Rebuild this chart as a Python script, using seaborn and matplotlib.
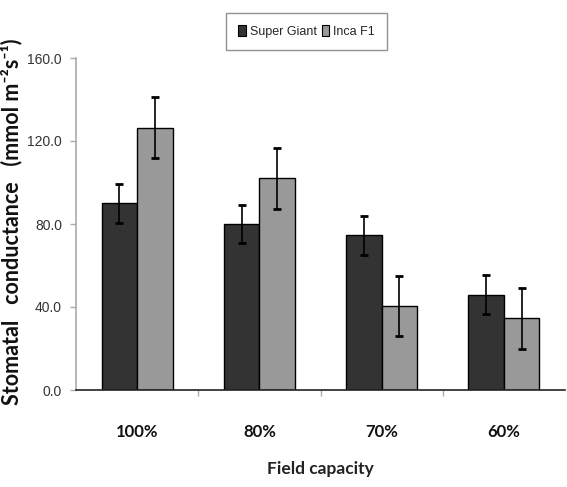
import matplotlib
matplotlib.use("Agg")
import matplotlib.pyplot as plt
from matplotlib import font_manager
from matplotlib.patches import Patch
import numpy as np
import pandas as pd
import seaborn as sns

# Stomatal conductance by field capacity for two cultivars
capacities = ["100%", "80%", "70%", "60%"]
cultivars = ["Super Giant", "Inca F1"]
super_giant = [90.0, 80.0, 74.5, 46.0]
inca_f1 = [126.5, 102.0, 40.5, 34.5]
super_giant_err = [9.5, 9.0, 9.4, 9.4]
inca_f1_err = [14.5, 14.7, 14.5, 14.6]
y_ticks = [0, 40, 80, 120, 160]

colors = {"Super Giant": "#333333", "Inca F1": "#999999"}

names = {f.name for f in font_manager.fontManager.ttflist}
narrow = "Liberation Sans Narrow" if "Liberation Sans Narrow" in names else "Liberation Sans"

df = pd.DataFrame({
    "capacity": capacities * 2,
    "cultivar": [cultivars[0]] * 4 + [cultivars[1]] * 4,
    "value": super_giant + inca_f1,
    "err": super_giant_err + inca_f1_err,
})

sns.set_style("white")
fig = plt.figure(figsize=(5.67, 4.87), dpi=100)
ax = fig.add_axes([76 / 567, 1 - 390 / 487, 489 / 567, 332 / 487])

sns.barplot(data=df, x="capacity", y="value", hue="cultivar", order=capacities,
            hue_order=cultivars, palette=colors, width=0.58, gap=0,
            edgecolor="black", linewidth=1.0, errorbar=None, legend=False, ax=ax)

# error bars centred on each drawn bar
bars = [p for p in ax.patches]
for i, cv in enumerate(cultivars):
    sub = df[df.cultivar == cv].set_index("capacity").loc[capacities]
    group = bars[i * 4:(i + 1) * 4]
    xs = [b.get_x() + b.get_width() / 2 for b in group]
    ax.errorbar(xs, sub["value"], yerr=sub["err"], fmt="none", ecolor="black",
                elinewidth=1.2, capsize=3, capthick=2)

ax.set_xlim(-0.5, 3.5)
ax.set_ylim(0, 160)
ax.set_yticks(y_ticks)
ax.set_yticklabels([f"{t:.1f}" for t in y_ticks], fontfamily=narrow, fontsize=10, color="#333333")
ax.tick_params(axis="y", which="major", left=True, length=4, width=1, color="#aaaaaa", pad=6)

ax.set_xticks(range(4))
ax.set_xticklabels(capacities, fontfamily="Lato", fontweight="bold", fontsize=12, color="#111111")
ax.tick_params(axis="x", which="major", bottom=False, pad=21)
ax.set_xticks([0.5, 1.5, 2.5], minor=True)
ax.tick_params(axis="x", which="minor", bottom=True, length=4, width=1, color="#aaaaaa")

for s in ["top", "right"]:
    ax.spines[s].set_visible(False)
ax.spines["left"].set_color("#aaaaaa")
ax.spines["left"].set_linewidth(1.2)
ax.spines["bottom"].set_color("#222222")
ax.spines["bottom"].set_linewidth(1.2)

ax.set_xlabel("Field capacity", fontfamily="Lato", fontweight="bold", fontsize=12.5,
              color="#222222", labelpad=15)
ax.set_ylabel("Stomatal   conductance   (mmol m\u207b\u00b2s\u207b\u00b9)",
              fontfamily=["Lato", "DejaVu Sans"], fontweight="bold", fontsize=15.5,
              color="#111111")
ax.yaxis.set_label_coords(-54 / 489, (390 - 222) / 332)

handles = [Patch(facecolor=colors[c], edgecolor="black", linewidth=0.8, label=c) for c in cultivars]
leg = fig.legend(handles=handles, loc="center", bbox_to_anchor=(306.5 / 567, 1 - 31.5 / 487),
                 ncol=2, frameon=True, fancybox=False, handlelength=0.6, handleheight=0.9,
                 handletextpad=0.3, columnspacing=0.4, borderpad=1.0,
                 prop={"family": narrow, "size": 9})
leg.get_frame().set_edgecolor("#777777")
leg.get_frame().set_linewidth(1.0)

fig.savefig("out.png", dpi=100)
